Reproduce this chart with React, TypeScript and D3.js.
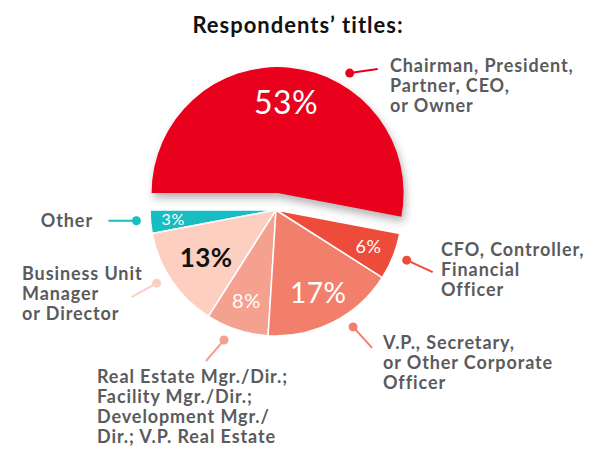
import * as d3 from 'd3'

// Survey shares (%)
const categories = [
  'Chairman, President, Partner, CEO, or Owner',
  'CFO, Controller, Financial Officer',
  'V.P., Secretary, or Other Corporate Officer',
  'Real Estate Mgr./Dir.; Facility Mgr./Dir.; Development Mgr./Dir.; V.P. Real Estate',
  'Business Unit Manager or Director',
  'Other',
]
const shares = [53, 6, 17, 8, 13, 3]
const labelLines = [
  ['Chairman, President,', 'Partner, CEO,', 'or Owner'],
  ['CFO, Controller,', 'Financial', 'Officer'],
  ['V.P., Secretary,', 'or Other Corporate', 'Officer'],
  ['Real Estate Mgr./Dir.;', 'Facility Mgr./Dir.;', 'Development Mgr./', 'Dir.; V.P. Real Estate'],
  ['Business Unit', 'Manager', 'or Director'],
  ['Other'],
]

const colors = ['#e8001d', '#ee4c3b', '#f27f6c', '#f5a18f', '#fccfc1', '#17bdc1']
const pctStyle = [
  { r: 0.72, size: 32, fill: '#fff', weight: 400 },
  { r: 0.79, size: 18, fill: '#fff', weight: 400 },
  { r: 0.74, size: 28, fill: '#fff', weight: 400 },
  { r: 0.76, size: 20, fill: '#fff', weight: 400 },
  { r: 0.67, size: 26, fill: '#111', weight: 700 },
  { r: 0.82, size: 16, fill: '#fff', weight: 400 },
]
// leader dot angle (deg), line end offset, text anchor position
const leaders = [
  { angle: 31, dx: 28, dy: -4, tx: 390, ty: 72, anchor: 'start' },
  { angle: 111, dx: 26, dy: 12, tx: 441, ty: 256, anchor: 'start' },
  { angle: 146.6, dx: 19, dy: 21, tx: 383, ty: 349, anchor: 'start' },
  { angle: 201.8, dx: -18, dy: 21, tx: 97, ty: 383, anchor: 'start' },
  { angle: 238.5, dx: -25, dy: 14, tx: 22, ty: 280, anchor: 'start' },
  { angle: 265.6, dx: -28, dy: 0, tx: 93, ty: 227, anchor: 'end' },
]

const W = 600
const H = 463
const cx = 276
const cy = 210
const R = 126
const explode = 17
const lineH = 20
const font = 'Lato, "Noto Sans", sans-serif'

export default function App() {
  const pie = d3
    .pie<number>()
    .sort(null)
    .value((d) => d)
    .startAngle(-Math.PI / 2)
    .endAngle((3 * Math.PI) / 2)
  const arcs = pie(shares)
  const arc = d3.arc<d3.PieArcDatum<number>>().innerRadius(0).outerRadius(R)

  const offsetOf = (i: number) => {
    if (i !== 0) return [0, 0]
    const mid = (arcs[i].startAngle + arcs[i].endAngle) / 2
    return [explode * Math.sin(mid), -explode * Math.cos(mid)]
  }

  return (
    <svg
      width={W}
      height={H}
      style={{ position: 'absolute', left: 0, top: 0, background: '#fff' }}
      fontFamily={font}
    >
      <defs>
        <filter id="shadow" x="-20%" y="-20%" width="140%" height="150%">
          <feDropShadow dx="2" dy="5" stdDeviation="4" floodColor="#000" floodOpacity="0.3" />
        </filter>
      </defs>

      <text x={298} y={33} textAnchor="middle" fontSize={22} fontWeight={700} fill="#111" letterSpacing={1}>
        Respondents’ titles:
      </text>

      {/* lower slices first, exploded slice on top with shadow */}
      <g transform={`translate(${cx},${cy})`}>
        {arcs
          .map((a, i) => ({ a, i }))
          .reverse()
          .map(({ a, i }) => {
            const [ox, oy] = offsetOf(i)
            return (
              <path
                key={categories[i]}
                d={arc(a) || ''}
                transform={`translate(${ox},${oy})`}
                fill={colors[i]}
                stroke="#fff"
                strokeWidth={i === 0 ? 0 : 1.5}
                strokeLinejoin="round"
                filter={i === 0 ? 'url(#shadow)' : undefined}
              />
            )
          })}

        {arcs.map((a, i) => {
          const [ox, oy] = offsetOf(i)
          const mid = (a.startAngle + a.endAngle) / 2
          const r = R * pctStyle[i].r
          return (
            <text
              key={'p' + i}
              x={ox + r * Math.sin(mid)}
              y={oy - r * Math.cos(mid)}
              dy="0.36em"
              textAnchor="middle"
              fontSize={pctStyle[i].size}
              fontWeight={pctStyle[i].weight}
              fill={pctStyle[i].fill}
              letterSpacing={0.5}
            >
              {shares[i]}%
            </text>
          )
        })}

        {leaders.map((l, i) => {
          const [ox, oy] = offsetOf(i)
          const ang = (l.angle * Math.PI) / 180
          const x = ox + (R + 14) * Math.sin(ang)
          const y = oy - (R + 14) * Math.cos(ang)
          return (
            <g key={'l' + i}>
              <line x1={x} y1={y} x2={x + l.dx} y2={y + l.dy} stroke={colors[i]} strokeWidth={2} />
              <circle cx={x} cy={y} r={4.5} fill={colors[i]} />
            </g>
          )
        })}
      </g>

      {leaders.map((l, i) =>
        labelLines[i].map((line, j) => (
          <text
            key={`t${i}-${j}`}
            x={l.tx}
            y={l.ty + j * lineH}
            textAnchor={l.anchor}
            fontSize={18}
            fontWeight={700}
            fill="#5a5b5d"
            letterSpacing={0.9}
          >
            {line}
          </text>
        ))
      )}
    </svg>
  )
}
